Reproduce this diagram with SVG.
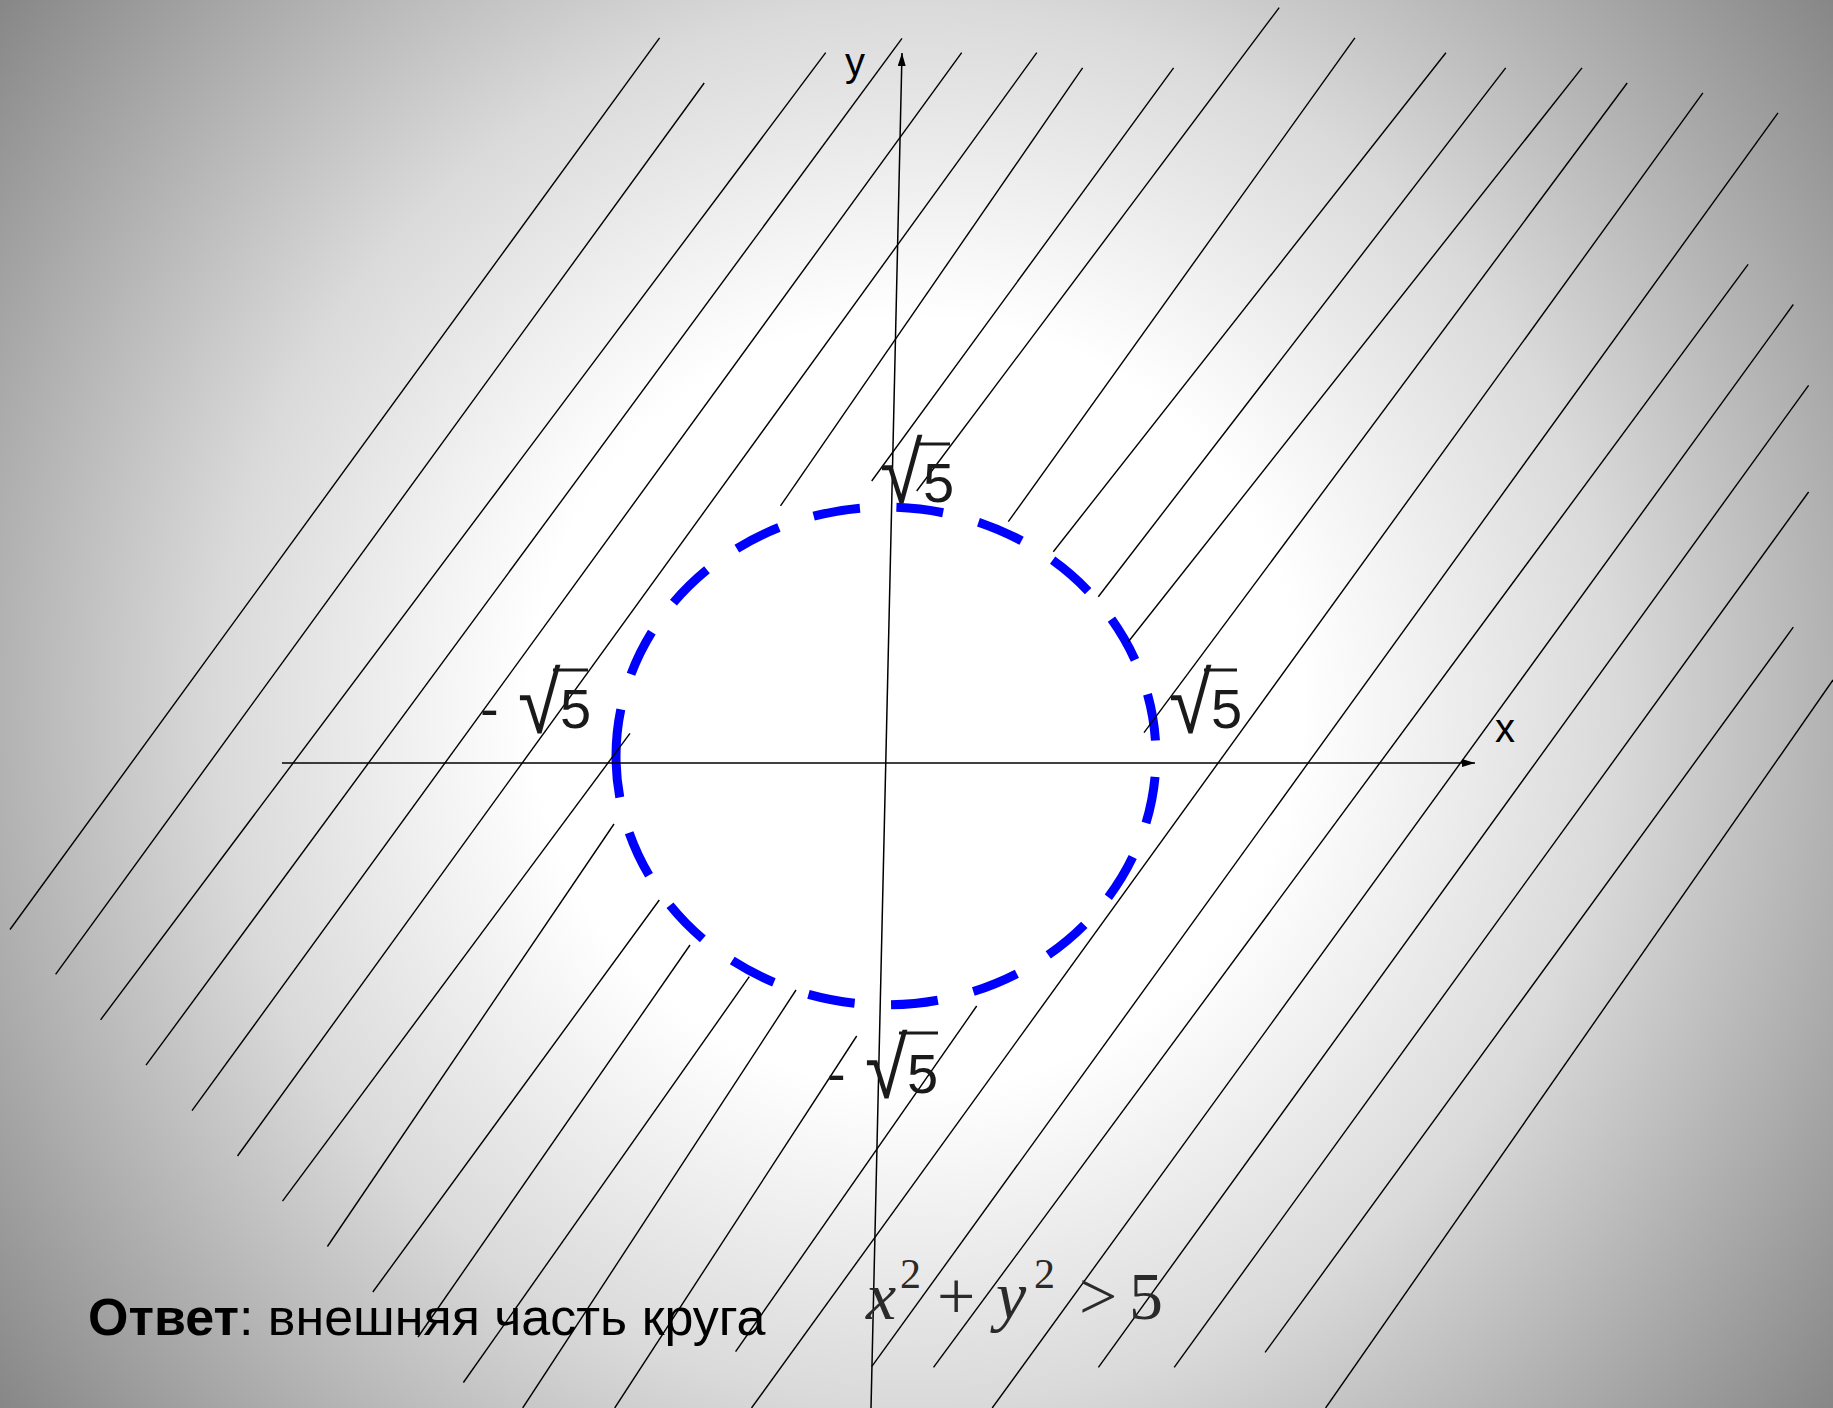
<svg xmlns="http://www.w3.org/2000/svg" width="1833" height="1408" viewBox="0 0 1833 1408">
<defs>
<radialGradient id="bg" gradientUnits="userSpaceOnUse" cx="916" cy="704" r="1165">
<stop offset="0" stop-color="#ffffff"/>
<stop offset="0.33" stop-color="#ffffff"/>
<stop offset="0.6" stop-color="#dadada"/>
<stop offset="1" stop-color="#858585"/>
</radialGradient>
<marker id="arr" viewBox="0 0 13 8" refX="13" refY="4" markerWidth="13" markerHeight="8" markerUnits="userSpaceOnUse" orient="auto">
<path d="M0,0 L13,4 L0,8 z" fill="#000"/>
</marker>
</defs>
<style>
.h{stroke:#000;stroke-width:1.4;fill:none}
.ax{stroke:#000;stroke-width:1.5;fill:none}
.t{font-family:"Liberation Sans",Arial,sans-serif;fill:#000}
.rad{font-family:"Liberation Sans",Arial,sans-serif;fill:#1a1a1a;font-size:86px}
.r{font-family:"Liberation Sans",Arial,sans-serif;fill:#1a1a1a;font-size:56px}
.ov{stroke:#1a1a1a;stroke-width:3}
.f{font-family:"Liberation Serif","Times New Roman",serif;fill:#2a2a2a}
</style>
<rect x="0" y="0" width="1833" height="1408" fill="url(#bg)"/>
<g id="circle">
<path d="M616,756 A270,249 0 0 1 1156,756 A270,249 0 0 1 616,756" fill="none" stroke="#0000ff" stroke-width="9" stroke-dasharray="47 36.6"/>
</g>
<g id="hatching">
<line class="h" x1="659.6" y1="37.9" x2="10" y2="929.5"/>
<line class="h" x1="704.2" y1="83" x2="55.6" y2="974.3"/>
<line class="h" x1="825.7" y1="52.7" x2="100.6" y2="1019.8"/>
<line class="h" x1="902" y1="38.4" x2="146" y2="1065.2"/>
<line class="h" x1="961.7" y1="52.7" x2="192" y2="1110.7"/>
<line class="h" x1="1036.8" y1="52.7" x2="237.5" y2="1156"/>
<line class="h" x1="1082.6" y1="67.9" x2="780.5" y2="505.8"/>
<line class="h" x1="630" y1="733.3" x2="282.5" y2="1201.2"/>
<line class="h" x1="1173.6" y1="67.9" x2="871.7" y2="481"/>
<line class="h" x1="614" y1="824" x2="327.4" y2="1246.5"/>
<line class="h" x1="1279.2" y1="7.6" x2="916.7" y2="491"/>
<line class="h" x1="659.3" y1="900" x2="372.8" y2="1292"/>
<line class="h" x1="1354.9" y1="37.9" x2="1008.3" y2="521.7"/>
<line class="h" x1="690" y1="945" x2="418" y2="1337"/>
<line class="h" x1="1445.9" y1="52.7" x2="1053.3" y2="551.7"/>
<line class="h" x1="749.3" y1="976.7" x2="463.4" y2="1382.5"/>
<line class="h" x1="1505.7" y1="67.9" x2="1098.3" y2="596.7"/>
<line class="h" x1="796" y1="990" x2="522.7" y2="1408"/>
<line class="h" x1="1582" y1="67.9" x2="1128.3" y2="641.7"/>
<line class="h" x1="856.7" y1="1036" x2="614.7" y2="1408"/>
<line class="h" x1="1627.2" y1="83" x2="1144" y2="732.7"/>
<line class="h" x1="976.7" y1="1006" x2="735.6" y2="1351.7"/>
<line class="h" x1="1702.9" y1="92.9" x2="751.5" y2="1408"/>
<line class="h" x1="1778" y1="112.9" x2="871.7" y2="1366.7"/>
<line class="h" x1="1748.1" y1="264.3" x2="933.5" y2="1367.3"/>
<line class="h" x1="1793.3" y1="304.5" x2="992.2" y2="1408"/>
<line class="h" x1="1808.6" y1="385.3" x2="1098.4" y2="1367.3"/>
<line class="h" x1="1808.6" y1="492" x2="1174.2" y2="1367.3"/>
<line class="h" x1="1793.3" y1="627.2" x2="1265.1" y2="1352.4"/>
<line class="h" x1="1833" y1="680" x2="1325.6" y2="1408"/>
</g>
<g id="axes">
<line class="ax" x1="282" y1="763" x2="1475" y2="763" marker-end="url(#arr)"/>
<line class="ax" x1="871" y1="1408" x2="902" y2="53" marker-end="url(#arr)"/>
<text class="t" x="845" y="76" font-size="40">y</text>
<text class="t" x="1495" y="742" font-size="40">x</text>
</g>
<g id="label-top">
<text class="rad" transform="translate(880,503) scale(0.9,1)">√</text>
<text class="r" x="923" y="502">5</text>
<line class="ov" x1="916" y1="444" x2="950" y2="444"/>
</g>
<g id="label-right">
<text class="rad" transform="translate(1169,733) scale(0.9,1)">√</text>
<text class="r" x="1211" y="728">5</text>
<line class="ov" x1="1204" y1="670" x2="1237" y2="670"/>
</g>
<g id="label-left">
<text class="r" x="480" y="728">-</text>
<text class="rad" transform="translate(518,733) scale(0.9,1)">√</text>
<text class="r" x="560" y="728">5</text>
<line class="ov" x1="553" y1="670" x2="588" y2="670"/>
</g>
<g id="label-bottom">
<text class="r" x="827" y="1093">-</text>
<text class="rad" transform="translate(865,1098) scale(0.9,1)">√</text>
<text class="r" x="907" y="1093">5</text>
<line class="ov" x1="899" y1="1033" x2="938" y2="1033"/>
</g>
<g id="formula">
<text class="f" font-size="68"><tspan x="866" y="1319" font-style="italic">x</tspan><tspan x="900" y="1288" font-size="42">2</tspan><tspan x="937" y="1319">+</tspan><tspan x="996" y="1319" font-style="italic">y</tspan><tspan x="1034" y="1288" font-size="42">2</tspan><tspan x="1079" y="1319">&gt;</tspan><tspan x="1129" y="1319">5</tspan></text>
</g>
<g id="answer">
<text class="t" x="88" y="1335" font-size="52"><tspan font-weight="bold">Ответ</tspan>: внешняя часть круга</text>
</g>
</svg>
